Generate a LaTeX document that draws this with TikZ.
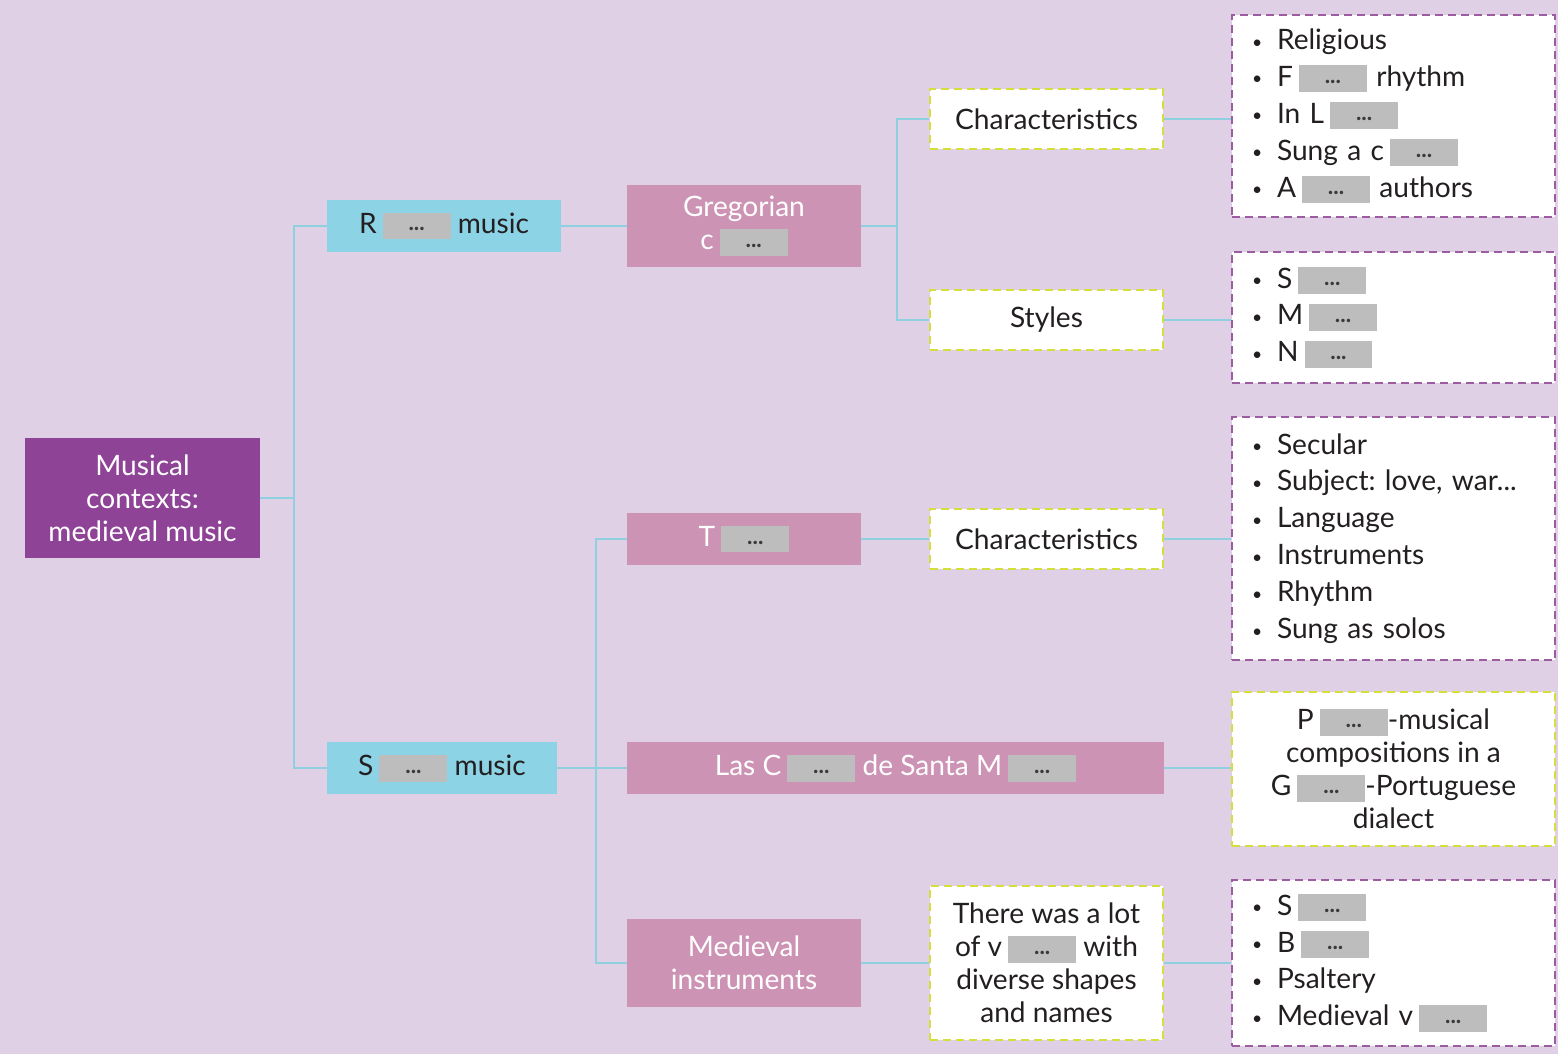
\documentclass[tikz,border=0pt]{standalone}
\usepackage{fontspec}
\setmainfont{Lato}
\frenchspacing
\definecolor{bgcol}{HTML}{E0D0E6}
\definecolor{rootcol}{HTML}{8E4396}
\definecolor{bluecol}{HTML}{8DD3E6}
\definecolor{pinkcol}{HTML}{CC93B4}
\definecolor{linecol}{HTML}{8ECFE0}
\definecolor{yellowcol}{HTML}{D6DE3C}
\definecolor{purplecol}{HTML}{9B5CA0}
\definecolor{gapcol}{HTML}{BDBDBD}
\definecolor{dotcol}{HTML}{3A3A3A}
\definecolor{textcol}{HTML}{231F20}
\newcommand{\gap}{\hspace{0.12cm}\raisebox{-0.12cm}{\setlength{\fboxsep}{0pt}\colorbox{gapcol}{\makebox[1.36cm]{\rule{0pt}{0.54cm}\raisebox{0.17cm}{\textcolor{dotcol}{\fontsize{13}{13}\selectfont\textbf{...}}}}}}}
\newcommand{\itm}{\makebox[0.5cm][l]{\raisebox{0.03cm}{\fontsize{10}{10}\selectfont\textbullet}}}
\begin{document}
\begin{tikzpicture}[x=0.02cm,y=-0.02cm,
    every node/.style={font=\fontsize{16}{18.8}\selectfont, align=center, inner sep=0pt},
    rootbox/.style={fill=rootcol, text=white, minimum width=4.7cm, minimum height=2.4cm},
    bluebox/.style={fill=bluecol, text=textcol, minimum height=1.04cm},
    pinkbox/.style={fill=pinkcol, text=white, minimum width=4.68cm},
    notebox/.style={fill=white, draw=yellowcol, line width=0.05cm, dash pattern=on 0.16cm off 0.1cm, text=textcol, minimum width=4.66cm},
    listbox/.style={fill=white, draw=purplecol, line width=0.05cm, dash pattern=on 0.16cm off 0.1cm, text=textcol, minimum width=6.46cm, text width=5.66cm, align=left, font=\fontsize{16}{21}\selectfont},
    link/.style={draw=linecol, line width=1.6pt}]
    % background
    \fill[bgcol] (0,0) rectangle (1558,1054);
    \useasboundingbox (0,0) rectangle (1558,1054);
    \node[rootbox] (root) at (142.5,498) {Musical\\contexts:\\medieval music};
    \node[bluebox, minimum width=4.68cm] (rmus) at (444,226) {R\gap\ music};
    \node[bluebox, minimum width=4.6cm] (smus) at (442,768) {S\gap\ music};
    \node[pinkbox, minimum height=1.66cm] (greg) at (744,226) {Gregorian\\c\gap};
    \node[pinkbox, minimum height=1.04cm] (trov) at (744,539) {T\gap};
    \node[pinkbox, minimum width=10.74cm, minimum height=1.04cm] (cant) at (895.5,768) {Las C\gap\ de Santa M\gap};
    \node[pinkbox, minimum height=1.76cm] (inst) at (744,963) {Medieval\\instruments};
    \node[notebox, minimum height=1.2cm] (charA) at (1046.5,119) {Characteristics};
    \node[notebox, minimum height=1.2cm] (styl) at (1046.5,320) {Styles};
    \node[notebox, minimum height=1.2cm] (charB) at (1046.5,539) {Characteristics};
    \node[notebox, minimum height=3.08cm] (lot) at (1046.5,963) {There was a lot\\of v\gap\ with\\diverse shapes\\and names};
    \node[listbox, minimum height=4.04cm] (listA) at (1393.5,116) {\itm Religious\\ \itm F\gap\ rhythm\\ \itm In L\gap\\ \itm Sung a c\gap\\ \itm A\gap\ authors};
    \node[listbox, minimum height=2.62cm] (listB) at (1393.5,317.5) {\itm S\gap\\ \itm M\gap\\ \itm N\gap};
    \node[listbox, minimum height=4.86cm] (listC) at (1393.5,538.5) {\itm Secular\\ \itm Subject: love, war...\\ \itm Language\\ \itm Instruments\\ \itm Rhythm\\ \itm Sung as solos};
    \node[notebox, minimum width=6.46cm, minimum height=3.08cm] (poet) at (1393.5,769) {P\gap-musical\\compositions in a\\G\gap-Portuguese\\dialect};
    \node[listbox, minimum height=3.32cm] (listD) at (1393.5,963) {\itm S\gap\\ \itm B\gap\\ \itm Psaltery\\ \itm Medieval v\gap};
    % connectors
    \coordinate (jroot) at (294,498);
    \coordinate (jgreg) at (897,226);
    \coordinate (jsec) at (596,768);
    \draw[link] (root.east) -- (jroot);
    \draw[link] (rmus.west) -| (jroot) |- (smus.west);
    \draw[link] (rmus.east) -- (greg.west);
    \draw[link] (greg.east) -- (jgreg);
    \draw[link] (charA.west) -| (jgreg) |- (styl.west);
    \draw[link] (charA.east) -- (listA.west |- charA.east);
    \draw[link] (styl.east) -- (listB.west |- styl.east);
    \draw[link] (smus.east) -- (cant.west);
    \draw[link] (trov.west) -| (jsec) |- (inst.west);
    \draw[link] (trov.east) -- (charB.west);
    \draw[link] (charB.east) -- (listC.west |- charB.east);
    \draw[link] (cant.east) -- (poet.west |- cant.east);
    \draw[link] (inst.east) -- (lot.west);
    \draw[link] (lot.east) -- (listD.west |- lot.east);
\end{tikzpicture}
\end{document}
